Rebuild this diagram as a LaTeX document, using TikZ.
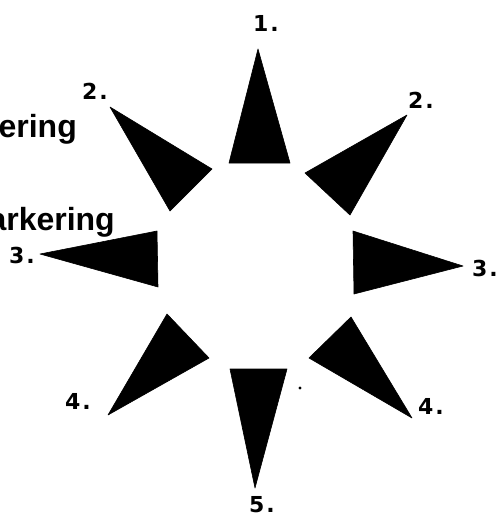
\documentclass[tikz,border=0pt]{standalone}
\usepackage{fontspec}
\setmainfont{Liberation Sans}
\newfontfamily\numfont{DejaVu Sans}
\begin{document}
\begin{tikzpicture}[x=1pt,y=-1pt,
  ray/.style={fill=black, draw=black, line width=0.6pt, line join=round},
  lab/.style={font=\numfont\bfseries\fontsize{22}{22}\selectfont, inner sep=0pt},
  word/.style={font=\bfseries\fontsize{32}{32}\selectfont, inner sep=0pt, anchor=base east}]
\useasboundingbox (0,0) rectangle (498,519);
% triangles
\filldraw[ray] (258,49) -- (229,163) -- (290,163) -- cycle;   % 1
\filldraw[ray] (110,107) -- (212,169) -- (170,211) -- cycle;  % 2 left
\filldraw[ray] (407,115) -- (305,173) -- (350,215) -- cycle;  % 2 right
\filldraw[ray] (40,254) -- (157,231) -- (158,287) -- cycle;   % 3 left
\filldraw[ray] (463,266) -- (353,231) -- (354,294) -- cycle;  % 3 right
\filldraw[ray] (108,415) -- (167,314) -- (209,358) -- cycle;  % 4 left
\filldraw[ray] (412,418) -- (351,317) -- (309,358) -- cycle;  % 4 right
\filldraw[ray] (255,488) -- (230,369) -- (287,369) -- cycle;  % 5
\fill (300,388) circle (1.6);
% labels
\node[lab] (l1)  at (266,23)  {1\kern2pt.};
\node[lab] (l2a) at (95,91)   {2\kern2pt.};
\node[lab] (l2b) at (421,100) {2\kern2pt.};
\node[lab] (l3a) at (22,255)  {3\kern2pt.};
\node[lab, anchor=east] (l3b) at (498,268) {3\kern2pt.};
\node[lab] (l4a) at (78,401)  {4\kern2pt.};
\node[lab] (l4b) at (431,406) {4\kern2pt.};
\node[lab] (l5)  at (262,505) {5\kern2pt.};
% words
\node[word] (w1) at (77,137)  {ering};
\node[word] (w2) at (115,230) {arkering};
\end{tikzpicture}
\end{document}
